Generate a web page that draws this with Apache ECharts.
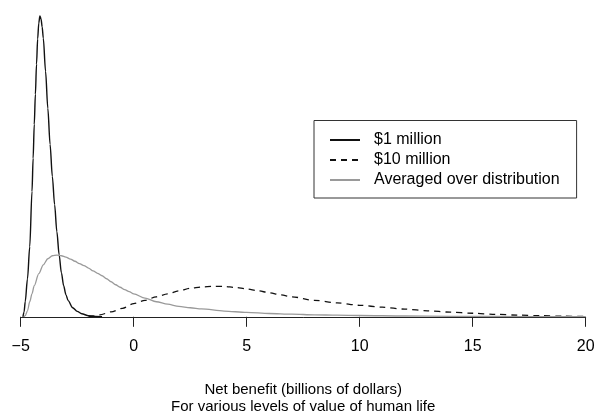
<!DOCTYPE html>
<html>
<head>
<meta charset="utf-8">
<script src="https://cdn.jsdelivr.net/npm/echarts@6/dist/echarts.min.js"></script>
<style>
  html, body { margin: 0; padding: 0; background: #fff; }
  #chart { width: 595px; height: 412px; }
</style>
</head>
<body>
<div id="chart"></div>
<script>
// Density of net benefit (billions of dollars) for each value-of-life assumption.
const seriesNames = ['$1 million', '$10 million', 'Averaged over distribution'];
const xTicks = [-5, 0, 5, 10, 15, 20];

// [net benefit, density]
const oneMillion = [
  [-4.90, 0], [-4.85, 0.018], [-4.80, 0.055], [-4.70, 0.139], [-4.60, 0.256],
  [-4.50, 0.458], [-4.45, 0.579], [-4.40, 0.703], [-4.35, 0.813], [-4.30, 0.923],
  [-4.25, 1.015], [-4.20, 1.073], [-4.15, 1.099], [-4.10, 1.088], [-4.05, 1.059],
  [-4.00, 1.018], [-3.90, 0.897], [-3.80, 0.762], [-3.70, 0.630], [-3.60, 0.513],
  [-3.50, 0.410], [-3.40, 0.311], [-3.30, 0.227], [-3.20, 0.161], [-3.10, 0.114],
  [-3.00, 0.081], [-2.90, 0.059], [-2.70, 0.033], [-2.50, 0.020], [-2.30, 0.011],
  [-2.00, 0.004], [-1.70, 0.0015], [-1.40, 0]
];

const tenMillion = [
  [-2.00, 0], [-1.80, 0.002], [-1.50, 0.007], [-1.00, 0.018], [-0.50, 0.031],
  [0.00, 0.048], [0.50, 0.060], [1.00, 0.073], [1.50, 0.084], [2.00, 0.095],
  [2.50, 0.104], [3.00, 0.109], [3.50, 0.111], [4.00, 0.111], [4.50, 0.107],
  [5.00, 0.102], [5.50, 0.095], [6.00, 0.088], [6.50, 0.080], [7.00, 0.073],
  [8.00, 0.060], [9.00, 0.051], [10.00, 0.042], [11.00, 0.035], [12.00, 0.028],
  [13.00, 0.022], [14.00, 0.017], [15.00, 0.013], [16.00, 0.009], [17.00, 0.006],
  [18.00, 0.004], [19.00, 0.002], [20.00, 0.001]
];

const averaged = [
  [-4.85, 0], [-4.80, 0.004], [-4.70, 0.022], [-4.60, 0.055], [-4.50, 0.084],
  [-4.40, 0.114], [-4.20, 0.158], [-4.00, 0.190], [-3.80, 0.212], [-3.60, 0.223],
  [-3.40, 0.225], [-3.20, 0.223], [-3.00, 0.218], [-2.80, 0.211], [-2.60, 0.203],
  [-2.40, 0.194], [-2.20, 0.187], [-2.00, 0.178], [-1.80, 0.168], [-1.60, 0.159],
  [-1.40, 0.150], [-1.20, 0.139], [-1.00, 0.128], [-0.80, 0.117], [-0.60, 0.108],
  [-0.40, 0.099], [-0.20, 0.092], [0.00, 0.084], [0.50, 0.068], [1.00, 0.055],
  [1.50, 0.046], [2.00, 0.038], [2.50, 0.033], [3.00, 0.029], [4.00, 0.021],
  [5.00, 0.016], [6.00, 0.012], [7.00, 0.0095], [8.00, 0.0073], [9.00, 0.0059],
  [10.00, 0.0048], [12.00, 0.0029], [14.00, 0.0018], [16.00, 0.0011],
  [18.00, 0.0007], [20.00, 0.0004]
];

const FONT = '"Liberation Sans", Arial, Helvetica, sans-serif';

const chart = echarts.init(document.getElementById('chart'), null, { renderer: 'canvas' });

function densityLine(name, data, color, width, type) {
  return {
    name: name,
    type: 'line',
    data: data,
    symbol: 'none',
    smooth: 0.3,
    smoothMonotone: 'x',
    lineStyle: { color: color, width: width, type: type },
    itemStyle: { color: color },
    emphasis: { disabled: true }
  };
}

chart.setOption({
  animation: false,
  backgroundColor: '#ffffff',
  grid: {
    left: 20.7, right: 9.3, top: 2, bottom: 95.2,
    containLabel: false,
    outerBoundsMode: 'none'
  },
  xAxis: {
    type: 'value',
    min: xTicks[0],
    max: xTicks[xTicks.length - 1],
    interval: xTicks[1] - xTicks[0],
    name: 'Net benefit (billions of dollars)\nFor various levels of value of human life',
    nameLocation: 'middle',
    nameGap: 64.5,
    nameTextStyle: { fontFamily: FONT, fontSize: 15, lineHeight: 17, color: '#000' },
    axisLine: { show: true, onZero: false, lineStyle: { color: '#222', width: 1 } },
    axisTick: { show: true, length: 10, inside: false, lineStyle: { color: '#222', width: 1 } },
    axisLabel: {
      margin: 22,
      fontFamily: FONT,
      fontSize: 16,
      color: '#000',
      formatter: v => String(v).replace('-', '\u2212')
    },
    splitLine: { show: false }
  },
  yAxis: {
    type: 'value',
    min: 0,
    max: 1.15,
    show: false,
    splitLine: { show: false }
  },
  legend: {
    orient: 'vertical',
    left: 314,
    top: 120.5,
    data: seriesNames,
    backgroundColor: '#fff',
    borderColor: '#333',
    borderWidth: 1,
    padding: [9.5, 17, 8, 15],
    itemGap: 0,
    itemWidth: 30,
    itemHeight: 14,
    itemStyle: { opacity: 0, borderWidth: 0 },
    textStyle: { fontFamily: FONT, fontSize: 16, lineHeight: 20, color: '#000', padding: [0, 0, 0, 9] },
    selectedMode: false
  },
  series: [
    densityLine(seriesNames[0], oneMillion, '#111', 1.4, 'solid'),
    densityLine(seriesNames[1], tenMillion, '#111', 1.3, [6, 5]),
    densityLine(seriesNames[2], averaged, '#9a9a9a', 1.3, 'solid')
  ]
});
</script>
</body>
</html>
